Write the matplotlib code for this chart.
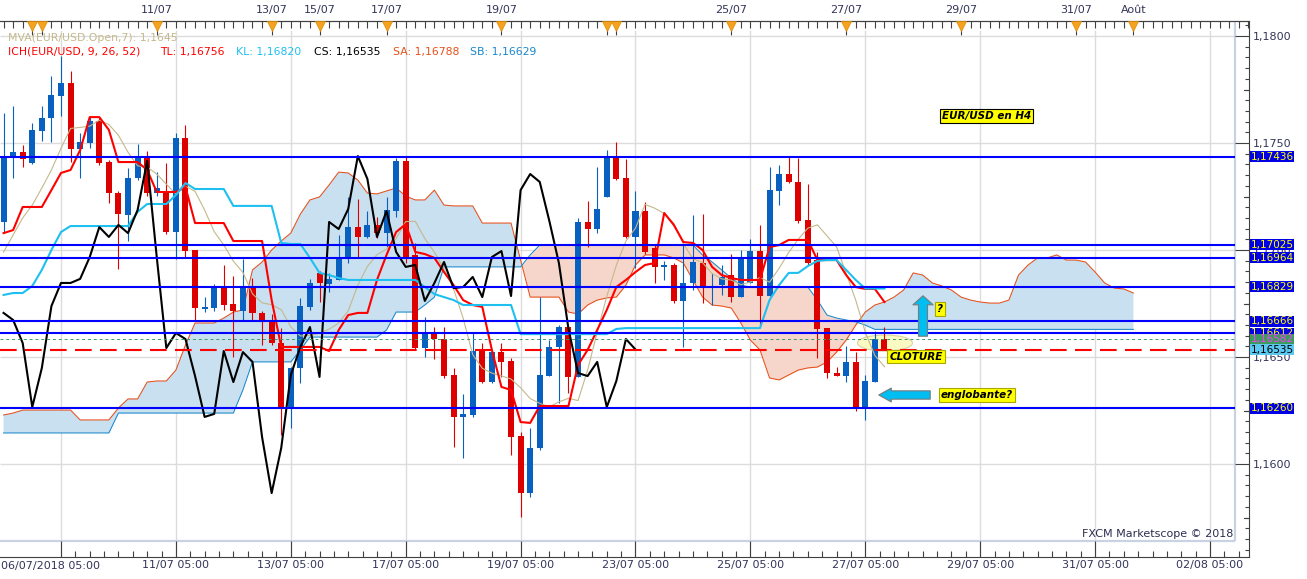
import numpy as np
import pandas as pd
import matplotlib
matplotlib.use("AGG")
import matplotlib.pyplot as plt
from matplotlib.patches import Ellipse, FancyArrowPatch
from matplotlib.ticker import FixedLocator, FixedFormatter, FuncFormatter, MultipleLocator

# --- EUR/USD H4 candles (06/07 -> 27/07/2018) ---
opens = [1.17131, 1.17439, 1.17458, 1.17407, 1.17556, 1.17617, 1.17720, 1.17780, 1.17472, 1.17500,
         1.17603, 1.17411, 1.17266, 1.17164, 1.17336, 1.17435, 1.17266, 1.17276, 1.17084, 1.17523,
         1.17000, 1.16724, 1.16729, 1.16827, 1.16748, 1.16715, 1.16822, 1.16706, 1.16664, 1.16565,
         1.16266, 1.16449, 1.16734, 1.16893, 1.16841, 1.16860, 1.16967, 1.17107, 1.17061, 1.17117,
         1.17079, 1.17182, 1.17416, 1.16977, 1.16542, 1.16612, 1.16584, 1.16416, 1.16220, 1.16229,
         1.16528, 1.16383, 1.16523, 1.16481, 1.16131, 1.15864, 1.16075, 1.16411, 1.16547, 1.16640,
         1.16407, 1.17131, 1.17098, 1.17248, 1.17435, 1.17336, 1.17061, 1.17182, 1.17009, 1.16921,
         1.16930, 1.16762, 1.16846, 1.16939, 1.16822, 1.16836, 1.16883, 1.16780, 1.16846, 1.16995,
         1.16785, 1.17276, 1.17355, 1.17318, 1.17140, 1.16953, 1.16635, 1.16425, 1.16411, 1.16477,
         1.16266, 1.16383, 1.16584]
highs = [1.17640, 1.17673, 1.17491, 1.17593, 1.17673, 1.17813, 1.17907, 1.17836, 1.17547, 1.17621,
         1.17621, 1.17421, 1.17276, 1.17383, 1.17495, 1.17463, 1.17364, 1.17407, 1.17547, 1.17584,
         1.17000, 1.16780, 1.16841, 1.16930, 1.16878, 1.16958, 1.16869, 1.16715, 1.16701, 1.16635,
         1.16453, 1.16776, 1.16865, 1.16902, 1.16893, 1.17070, 1.17248, 1.17238, 1.17182, 1.17154,
         1.17248, 1.17430, 1.17435, 1.17033, 1.16687, 1.16640, 1.16640, 1.16449, 1.16327, 1.16617,
         1.16565, 1.16533, 1.16565, 1.16495, 1.16150, 1.16168, 1.16780, 1.16579, 1.16650, 1.16650,
         1.17150, 1.17229, 1.17388, 1.17467, 1.17505, 1.17425, 1.17276, 1.17224, 1.17023, 1.16949,
         1.16939, 1.17023, 1.17164, 1.17168, 1.16893, 1.16930, 1.16981, 1.17000, 1.17051, 1.17117,
         1.17388, 1.17397, 1.17435, 1.17430, 1.17308, 1.16991, 1.16635, 1.16453, 1.16551, 1.16523,
         1.16416, 1.16621, 1.16640]
lows = [1.17079, 1.17336, 1.17388, 1.17400, 1.17509, 1.17505, 1.17626, 1.17411, 1.17336, 1.17477,
        1.17397, 1.17220, 1.16911, 1.17042, 1.17327, 1.17252, 1.17252, 1.17075, 1.16958, 1.16967,
        1.16673, 1.16710, 1.16715, 1.16720, 1.16500, 1.16673, 1.16673, 1.16556, 1.16556, 1.16135,
        1.16168, 1.16379, 1.16720, 1.16757, 1.16804, 1.16860, 1.16939, 1.16967, 1.17056, 1.17056,
        1.17014, 1.17154, 1.16939, 1.16533, 1.16500, 1.16491, 1.16402, 1.16079, 1.16028, 1.16220,
        1.16379, 1.16379, 1.16407, 1.16042, 1.15752, 1.15846, 1.16065, 1.16411, 1.16285, 1.16332,
        1.16407, 1.17014, 1.17079, 1.17248, 1.17327, 1.17056, 1.16916, 1.16981, 1.16846, 1.16860,
        1.16752, 1.16547, 1.16813, 1.16752, 1.16743, 1.16790, 1.16757, 1.16780, 1.16846, 1.16640,
        1.16785, 1.17210, 1.17313, 1.17126, 1.16930, 1.16495, 1.16402, 1.16411, 1.16383, 1.16248,
        1.16206, 1.16383, 1.16535]
closes = [1.17435, 1.17458, 1.17425, 1.17561, 1.17617, 1.17724, 1.17780, 1.17472, 1.17505, 1.17603,
          1.17407, 1.17266, 1.17168, 1.17336, 1.17439, 1.17266, 1.17290, 1.17084, 1.17523, 1.16995,
          1.16729, 1.16734, 1.16832, 1.16743, 1.16715, 1.16822, 1.16706, 1.16673, 1.16565, 1.16266,
          1.16449, 1.16738, 1.16846, 1.16846, 1.16865, 1.16967, 1.17107, 1.17061, 1.17117, 1.17079,
          1.17187, 1.17416, 1.16967, 1.16542, 1.16612, 1.16584, 1.16411, 1.16220, 1.16234, 1.16528,
          1.16383, 1.16523, 1.16477, 1.16126, 1.15864, 1.16075, 1.16416, 1.16547, 1.16640, 1.16407,
          1.17131, 1.17098, 1.17192, 1.17439, 1.17332, 1.17061, 1.17182, 1.16991, 1.16921, 1.16930,
          1.16762, 1.16846, 1.16944, 1.16822, 1.16827, 1.16874, 1.16780, 1.16967, 1.16995, 1.16785,
          1.17280, 1.17355, 1.17318, 1.17136, 1.16939, 1.16631, 1.16425, 1.16411, 1.16477, 1.16266,
          1.16388, 1.16584, 1.16535]

# --- Ichimoku (9, 26, 52) ---
tenkan = [1.17079, 1.17093, 1.17201, 1.17201, 1.17201, 1.17280, 1.17360, 1.17374, 1.17467, 1.17621,
          1.17621, 1.17561, 1.17411, 1.17411, 1.17411, 1.17374, 1.17271, 1.17271, 1.17271, 1.17294,
          1.17126, 1.17126, 1.17126, 1.17126, 1.17042, 1.17042, 1.17042, 1.17042, 1.16766, 1.16547,
          1.16547, 1.16547, 1.16547, 1.16547, 1.16528, 1.16626, 1.16696, 1.16706, 1.16706, 1.16860,
          1.16977, 1.17084, 1.17121, 1.16991, 1.16981, 1.16963, 1.16897, 1.16836, 1.16766, 1.16743,
          1.16734, 1.16533, 1.16360, 1.16346, 1.16196, 1.16192, 1.16271, 1.16271, 1.16271, 1.16271,
          1.16463, 1.16533, 1.16626, 1.16720, 1.16827, 1.16860, 1.16897, 1.16930, 1.16939, 1.17173,
          1.17117, 1.17037, 1.17033, 1.17000, 1.16921, 1.16883, 1.16869, 1.16860, 1.16860, 1.16860,
          1.17014, 1.17023, 1.17047, 1.17047, 1.17047, 1.16953, 1.16953, 1.16953, 1.16883, 1.16827,
          1.16818, 1.16818, 1.16757]
kijun = [1.16790, 1.16799, 1.16799, 1.16832, 1.16907, 1.17000, 1.17084, 1.17112, 1.17112, 1.17112,
         1.17112, 1.17112, 1.17112, 1.17112, 1.17178, 1.17215, 1.17215, 1.17215, 1.17257, 1.17313,
         1.17285, 1.17285, 1.17285, 1.17285, 1.17206, 1.17206, 1.17206, 1.17206, 1.17206, 1.17033,
         1.17028, 1.17028, 1.16963, 1.16893, 1.16883, 1.16869, 1.16860, 1.16860, 1.16860, 1.16860,
         1.16860, 1.16860, 1.16860, 1.16860, 1.16827, 1.16794, 1.16780, 1.16766, 1.16743, 1.16743,
         1.16743, 1.16743, 1.16743, 1.16743, 1.16607, 1.16607, 1.16607, 1.16607, 1.16607, 1.16607,
         1.16607, 1.16607, 1.16607, 1.16607, 1.16631, 1.16635, 1.16635, 1.16635, 1.16635, 1.16635,
         1.16635, 1.16635, 1.16635, 1.16635, 1.16635, 1.16635, 1.16635, 1.16635, 1.16635, 1.16635,
         1.16766, 1.16836, 1.16893, 1.16893, 1.16925, 1.16949, 1.16953, 1.16953, 1.16907, 1.16860,
         1.16820, 1.16820, 1.16820]
senkou_a = [1.16229, 1.16238, 1.16252, 1.16252, 1.16252, 1.16252, 1.16252, 1.16252, 1.16206, 1.16206,
            1.16206, 1.16206, 1.16262, 1.16304, 1.16304, 1.16383, 1.16388, 1.16388, 1.16439, 1.16556,
            1.16659, 1.16659, 1.16659, 1.16682, 1.16710, 1.16720, 1.16907, 1.16944, 1.17000, 1.17042,
            1.17079, 1.17168, 1.17234, 1.17248, 1.17304, 1.17364, 1.17360, 1.17327, 1.17266, 1.17262,
            1.17276, 1.17290, 1.17252, 1.17234, 1.17234, 1.17280, 1.17210, 1.17206, 1.17206, 1.17206,
            1.17126, 1.17126, 1.17126, 1.17126, 1.16953, 1.16780, 1.16780, 1.16780, 1.16780, 1.16710,
            1.16701, 1.16743, 1.16766, 1.16776, 1.16780, 1.16836, 1.16930, 1.16977, 1.16977, 1.16977,
            1.16963, 1.16939, 1.16860, 1.16780, 1.16743, 1.16738, 1.16729, 1.16659, 1.16579, 1.16533,
            1.16402, 1.16393, 1.16416, 1.16439, 1.16449, 1.16453, 1.16477, 1.16523, 1.16579, 1.16649,
            1.16710, 1.16743, 1.16757, 1.16780, 1.16813, 1.16893, 1.16883, 1.16846, 1.16832, 1.16813,
            1.16780, 1.16766, 1.16757, 1.16752, 1.16752, 1.16766, 1.16883, 1.16930, 1.16963, 1.16963,
            1.16977, 1.16953, 1.16953, 1.16944, 1.16897, 1.16846, 1.16822, 1.16818, 1.16799]
senkou_b = [1.16145] * 12 + [1.16238] * 13 + [1.16346] + [1.16477] * 5 + [1.16533] \
    + [1.16593] * 8 + [1.16626] + [1.16710] * 3 + [1.16743, 1.16780] + [1.16921] * 9 + [1.16977] \
    + [1.17023] * 17 + [1.16977, 1.16944, 1.16907, 1.16869, 1.16836] + [1.16827] * 7 \
    + [1.16766, 1.16696, 1.16682, 1.16673, 1.16664, 1.16649] + [1.16629] * 28
mva_head = [1.16990, 1.17070, 1.17150, 1.17210, 1.17290, 1.17374]

# support / resistance levels drawn on the chart
blue_levels = [1.17436, 1.17025, 1.16964, 1.16829, 1.16666, 1.16612, 1.16260]
close_level = 1.16535
mva_level = 1.16582

top_days = [3, 4, 16, 28, 33, 40, 52, 63, 64, 76, 88, 100, 112, 118]
top_labels = ["", "", "11/07", "13/07", "15/07", "17/07", "19/07", "", "", "25/07",
              "27/07", "29/07", "31/07", "Août"]
grid_idx = list(range(6, 130, 12))
bottom_labels = ["", "11/07 05:00", "13/07 05:00", "17/07 05:00", "19/07 05:00", "23/07 05:00",
                 "25/07 05:00", "27/07 05:00", "29/07 05:00", "31/07 05:00", "02/08 05:00"]

# ---------------------------------------------------------------------------
W, H = 1307, 579
X0, DX = 3.55, 9.575          # pixel of candle 0, pixels per candle


def ix(px):
    return (px - X0) / DX


def pr(py):
    return 1.18 - (py - 36) / 21400.0


BLUE, RED = "#0860c0", "#dd0000"
TXT = "#34345a"
FRAME = "#c8d2e2"

plt.rcParams["font.family"] = "DejaVu Sans"
fig = plt.figure(figsize=(W / 100, H / 100), dpi=100)
ax = fig.add_axes([0, 1 - 557 / H, 1249 / W, (557 - 21) / H])
ax.set_xlim(ix(0), ix(1249))
ax.set_ylim(pr(557), pr(21))
XR = ix(1235)

o = np.array(opens); h = np.array(highs); l = np.array(lows); c = np.array(closes)
idx = np.arange(len(o))
fut = np.arange(len(senkou_a))
sa = np.array(senkou_a); sb = np.array(senkou_b)

# cloud
ax.fill_between(fut, sa, sb, where=sa >= sb, interpolate=True, color="#c8e0f0", lw=0, zorder=1)
ax.fill_between(fut, sa, sb, where=sa < sb, interpolate=True, color="#f6d6ca", lw=0, zorder=1)
ax.plot(fut, sa, color="#e8501a", lw=0.75, zorder=2)
ax.plot(fut, sb, color="#1a88cc", lw=0.75, zorder=2)

# grid and inner frame
ax.hlines(np.arange(1.16, 1.1801, 0.005), ix(0), XR, colors="#dcdcdc", lw=1, zorder=0.5)
ax.vlines(grid_idx, pr(557), pr(30), colors="#dcdcdc", lw=1, zorder=0.5)
ax.vlines(XR, pr(541), pr(21), colors=FRAME, lw=1.6, zorder=0.6)
ax.hlines(pr(541), ix(0), XR, colors=FRAME, lw=1.6, zorder=0.6)

# highlight ellipse
ax.add_patch(Ellipse((ix(885), pr(343)), ix(940) - ix(885), 16 / 21400.0,
                     fc="#fafac0", ec="#d8d0a0", lw=0.8, alpha=0.95, zorder=2.5))

# candles
col = np.where(c >= o, BLUE, RED)
ax.vlines(idx, l, h, colors=col, lw=0.8, zorder=3)
ax.bar(idx, np.maximum(np.abs(c - o), 0.00005), bottom=np.minimum(o, c), width=0.63,
       color=col, lw=0, zorder=3)

# indicators
mva = pd.Series(o).rolling(7).mean().to_numpy()
mva[:6] = mva_head
ax.plot(idx, mva, color="#c4b88c", lw=0.8, zorder=4)
ax.plot(idx, tenkan, color="#ff0000", lw=1.5, zorder=5)
ax.plot(idx, kijun, color="#1ec0f0", lw=1.5, zorder=5)
ax.plot(idx[:len(c) - 26], c[26:], color="black", lw=1.5, zorder=5)

# levels
ax.hlines(blue_levels, ix(0), XR, colors="#0000ff", lw=1.5, zorder=6)
ax.hlines(close_level, ix(0), XR, colors="#ff0000", lw=1.5, linestyles=[(0, (8, 4))], zorder=6)
ax.hlines(mva_level, ix(0), XR, colors="#3a9a6a", lw=0.7, linestyles=[(0, (3, 3))], zorder=6)

# right axis
ax.yaxis.set_major_locator(MultipleLocator(0.005))
ax.yaxis.set_minor_locator(MultipleLocator(0.0005))
ax.yaxis.set_major_formatter(FuncFormatter(lambda v, p: f"{v:.4f}".replace(".", ",")))
ax.tick_params(axis="y", which="major", direction="in", length=10, width=0.8, color="#404040",
               labelsize=8, labelcolor=TXT, pad=2.5, left=False, right=True,
               labelleft=False, labelright=True)
ax.tick_params(axis="y", which="minor", direction="in", length=3, width=0.8, color="#404040",
               left=False, right=True)
for p in np.arange(1.1575, 1.18, 0.005):
    ax.plot([1 - 5 / 1249, 1], [p, p], color="#404040", lw=0.8, transform=ax.get_yaxis_transform(),
            clip_on=False, zorder=7)

# bottom axis
ax.xaxis.set_major_locator(FixedLocator(grid_idx))
ax.xaxis.set_major_formatter(FixedFormatter(bottom_labels))
ax.xaxis.set_minor_locator(FixedLocator(np.arange(6, 130, 1.5)))
ax.tick_params(axis="x", which="major", direction="in", length=11.5, width=0.8, color="#404040",
               labelsize=8, labelcolor=TXT, pad=2.5, top=False)
ax.tick_params(axis="x", which="minor", direction="in", length=4, width=0.8, color="#404040",
               top=False)
fig.text(1 / W, 1 - 566 / H, "06/07/2018 05:00", fontsize=8, color=TXT, ha="left", va="center")

# top axis
top = ax.secondary_xaxis("top")
top.set_xticks(top_days, labels=top_labels)
top.xaxis.set_minor_locator(MultipleLocator(1))
top.tick_params(which="major", direction="in", length=10, width=0.8, color="#404040",
                labelsize=8, labelcolor=TXT, pad=4)
top.tick_params(which="minor", direction="in", length=5, width=0.8, color="#404040")
ax.plot(top_days, [1 - 4.5 / 536] * len(top_days), "v", ms=7, color="#f5a21e",
        mec="#e08a00", mew=0.5, transform=ax.get_xaxis_transform(), clip_on=False, zorder=8)

ax.spines["left"].set_visible(False)
for side in ["top", "bottom", "right"]:
    ax.spines[side].set_color("#404040")
    ax.spines[side].set_linewidth(0.8)
top.spines["top"].set_color("#404040")
top.spines["top"].set_linewidth(0.8)

# price labels on the right axis
price_tags = [(1.17436, "#0000e6", "#ffff00"), (1.17025, "#0000e6", "#ffff00"),
              (1.16964, "#0000e6", "#ffff00"), (1.16829, "#0000e6", "#ffff00"),
              (1.16666, "#0000e6", "#ffff00"), (1.16612, "#0000e6", "#ffff00"),
              (1.16582, "#3c9a5c", "#ff3cff"), (1.16535, "#5ac8f0", "#000000"),
              (1.16260, "#0000e6", "#ffff00")]
for k, (p, bg, fg) in enumerate(price_tags):
    ax.text(1.0015, p, f"{p:.5f}".replace(".", ","), transform=ax.get_yaxis_transform(),
            fontsize=7.5, color=fg, ha="left", va="center", clip_on=False, zorder=10 + k,
            bbox=dict(boxstyle="square,pad=0.04", fc=bg, ec="none"))

# legend text
fig.text(8 / W, 1 - 38 / H, "MVA(EUR/USD.Open,7): 1,1645", fontsize=7.8, color="#c4b88c", va="center")
for x, s, cl in [(8, "ICH(EUR/USD, 9, 26, 52)", "#ff0000"), (160, "TL: 1,16756", "#ff0000"),
                 (236, "KL: 1,16820", "#1ec0f0"), (314, "CS: 1,16535", "#000000"),
                 (393, "SA: 1,16788", "#e8501a"), (470, "SB: 1,16629", "#1a88cc")]:
    fig.text(x / W, 1 - 52 / H, s, fontsize=7.8, color=cl, va="center")

# annotations
box = dict(boxstyle="square,pad=0.18", fc="#ffff00", ec="#a8a800", lw=0.8)
ax.text(ix(987), pr(116), "EUR/USD en H4", fontsize=7.5, fontweight="bold", fontstyle="italic",
        ha="center", va="center", zorder=9, bbox=dict(box, ec="#000000"))
ax.add_patch(FancyArrowPatch((ix(923), pr(339)), (ix(923), pr(293)),
                             arrowstyle="simple,head_length=0.65,head_width=1.45,tail_width=0.65",
                             mutation_scale=10, fc="#00bef2", ec="#7a7a7a", lw=0.8, zorder=9))
ax.add_patch(FancyArrowPatch((ix(933), pr(395)), (ix(876), pr(395)),
                             arrowstyle="simple,head_length=0.9,head_width=1.0,tail_width=0.6",
                             mutation_scale=10, fc="#00bef2", ec="#7a7a7a", lw=0.8, zorder=9))
ax.text(ix(940), pr(309), "?", fontsize=7.5, fontweight="bold", fontstyle="italic",
        ha="center", va="center", zorder=9, bbox=box)
ax.text(ix(916), pr(356.5), "CLOTURE", fontsize=7.5, fontweight="bold", fontstyle="italic",
        ha="center", va="center", zorder=9, bbox=box)
ax.text(ix(977), pr(395), "englobante?", fontsize=7.5, fontweight="bold", fontstyle="italic",
        ha="center", va="center", zorder=9, bbox=box)
ax.text(ix(1233), pr(534), "FXCM Marketscope © 2018", fontsize=8, color="#2d2d50",
        ha="right", va="center", zorder=9)

fig.savefig("out.png", dpi=100)
